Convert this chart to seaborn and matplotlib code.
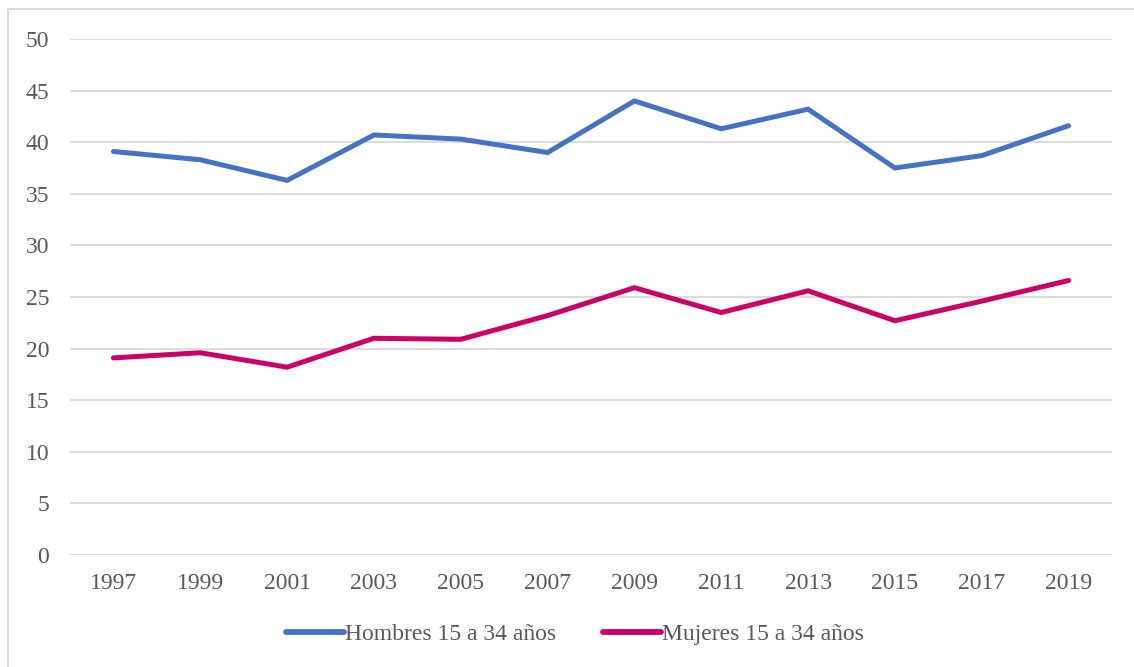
import matplotlib
matplotlib.use("Agg")
import matplotlib.pyplot as plt
import seaborn as sns
import pandas as pd
from matplotlib.patches import Rectangle

years = ["1997", "1999", "2001", "2003", "2005", "2007",
         "2009", "2011", "2013", "2015", "2017", "2019"]
hombres = [39.1, 38.3, 36.3, 40.7, 40.3, 39.0, 44.0, 41.3, 43.2, 37.5, 38.7, 41.6]
mujeres = [19.1, 19.6, 18.2, 21.0, 20.9, 23.2, 25.9, 23.5, 25.6, 22.7, 24.6, 26.6]
series_names = ["Hombres 15 a 34 años", "Mujeres 15 a 34 años"]
colors = ["#4472C4", "#CC0066"]
text_color = "#595959"
grid_color = "#D9D9D9"
FONT_SIZE = 17

df = pd.DataFrame({
    "Año": years * 2,
    "Valor": hombres + mujeres,
    "Serie": [series_names[0]] * len(years) + [series_names[1]] * len(years),
})

sns.set_theme(style="white")
plt.rcParams["font.family"] = ["Liberation Serif", "DejaVu Serif"]

fig = plt.figure(figsize=(11.34, 6.67), dpi=100)
ax = fig.add_axes([70 / 1134, 1 - 555 / 667, (1112 - 70) / 1134, (555 - 39) / 667])

# pass categorical positions through seaborn
df["pos"] = df["Año"].map({y: i for i, y in enumerate(years)})
sns.lineplot(data=df, x="pos", y="Valor", hue="Serie", palette=colors,
             linewidth=3.6, ax=ax, legend=False, sort=False)
for line in ax.get_lines():
    line.set_solid_capstyle("round")
    line.set_solid_joinstyle("miter")

ax.set_xlim(-0.5, len(years) - 0.5)
ax.set_ylim(0, 50)
ax.set_yticks(range(0, 51, 5))
ax.set_xticks(range(len(years)))
ax.set_xticklabels(years)
ax.yaxis.grid(True, color=grid_color, linewidth=1.3)
ax.set_axisbelow(True)
for s in ax.spines.values():
    s.set_visible(False)
ax.tick_params(axis="both", length=0, labelsize=FONT_SIZE, labelcolor=text_color)
ax.tick_params(axis="y", pad=15)
ax.tick_params(axis="x", pad=13)
ax.set_xlabel("")
ax.set_ylabel("")

handles = [plt.Line2D([], [], color=c, linewidth=4.2, solid_capstyle="round") for c in colors]
fig.legend(handles, series_names, loc="center", bbox_to_anchor=(575 / 1134, 1 - 634 / 667),
           ncol=2, frameon=False, fontsize=FONT_SIZE, labelcolor=text_color,
           handlelength=2.45, handletextpad=0.05, columnspacing=2.0)

# outer chart border (extends past right/bottom edges)
fig.patches.append(Rectangle((8 / 1134, -0.1), 1.2, 1 - 9 / 667 + 0.1,
                             transform=fig.transFigure, fill=False,
                             edgecolor="#D9D9D9", linewidth=1.3))

fig.savefig("out.png", dpi=100, facecolor="white")
